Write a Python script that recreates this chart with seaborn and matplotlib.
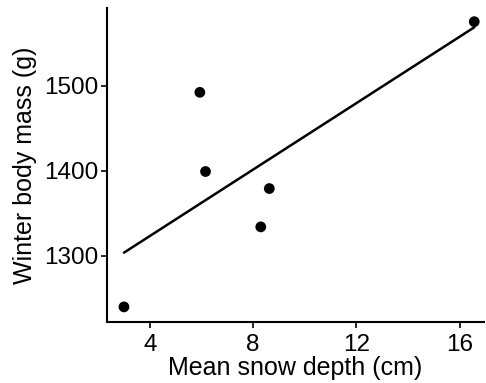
import matplotlib
matplotlib.use("Agg")
import matplotlib.pyplot as plt
import seaborn as sns
import pandas as pd

snow_depth = [3.0, 5.94, 6.16, 8.3, 8.63, 16.57]
body_mass = [1240, 1492, 1399, 1334, 1379, 1575]
x_ticks = [4, 8, 12, 16]
y_ticks = [1300, 1400, 1500]

df = pd.DataFrame({"snow": snow_depth, "mass": body_mass})

sns.set_style("ticks")
plt.rcParams["font.family"] = ["Liberation Sans", "DejaVu Sans"]

fig = plt.figure(figsize=(4.86, 3.83), dpi=100)
ax = fig.add_axes([0.22, 0.16, 0.776, 0.819])

sns.regplot(data=df, x="snow", y="mass", ci=None, ax=ax,
            scatter_kws=dict(color="black", s=60, edgecolor="none", alpha=1, zorder=3),
            line_kws=dict(color="black", lw=1.8))

ax.set_xlim(2.34, 16.95)
ax.set_ylim(1222.6, 1591)
ax.set_xticks(x_ticks)
ax.set_yticks(y_ticks)
ax.tick_params(labelsize=17.5, width=1.2, length=4, color="black", labelcolor="black")
ax.tick_params(axis="x", pad=5)
ax.tick_params(axis="y", pad=2)
ax.set_xlabel("Mean snow depth (cm)", fontsize=18, labelpad=0, color="black")
ax.set_ylabel("Winter body mass (g)", fontsize=18, labelpad=5, color="black")
sns.despine(ax=ax)
for s in ["left", "bottom"]:
    ax.spines[s].set_linewidth(1.5)
    ax.spines[s].set_color("black")

fig.savefig("out.png", dpi=100)
